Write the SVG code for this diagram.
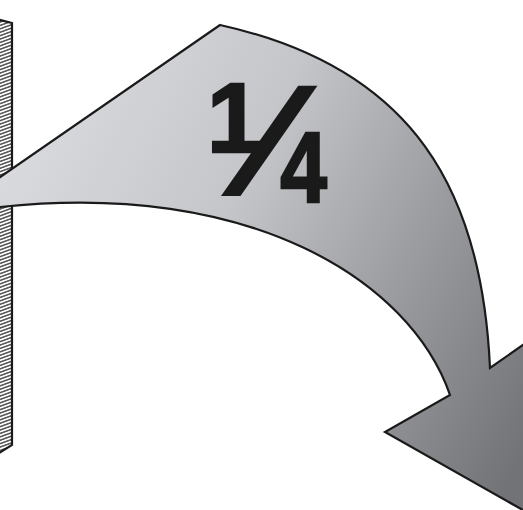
<svg xmlns="http://www.w3.org/2000/svg" width="523" height="510" viewBox="0 0 523 510">
  <style>
    .outline { stroke: #1a1a1a; stroke-width: 2.2; stroke-linejoin: miter; }
    .num { font-family: "Liberation Sans", Arial, sans-serif; font-weight: bold; fill: #1a1a1a; stroke: #1a1a1a; stroke-width: 2.4; }
  </style>
  <defs>
    <pattern id="hatch" patternUnits="userSpaceOnUse" width="24" height="3.4" patternTransform="skewY(-20)">
      <rect width="24" height="3.4" fill="#ffffff"/>
      <line x1="0" y1="1.7" x2="24" y2="1.7" stroke="#151515" stroke-width="1.2"/>
    </pattern>
    <linearGradient id="arrowFill" gradientUnits="userSpaceOnUse" x1="0" y1="100" x2="560" y2="380">
      <stop offset="0" stop-color="#dcdde0"/>
      <stop offset="0.4" stop-color="#c5c6c9"/>
      <stop offset="0.7" stop-color="#9b9c9f"/>
      <stop offset="1" stop-color="#727376"/>
    </linearGradient>
  </defs>

  <g id="wall">
    <polygon points="-4,19 12,23 12,445 -4,455" fill="url(#hatch)" class="outline"/>
  </g>

  <g id="connectors">
    <path id="quarter-turn-arrow" class="outline" fill="url(#arrowFill)"
      d="M -5,180.5 L 220,25 C 415,68 482,192 490,368 L 560,319 L 620,565 L 385,432 L 450,395 C 410,280 250,180 0,207 L -5,207 Z"/>
  </g>

  <g id="label">
    <text class="num" x="207" y="152" font-size="98">1</text>
    <text class="num" transform="translate(223,192) skewX(-27)" x="0" y="0" font-size="145">/</text>
    <text class="num" transform="translate(282,202) scale(0.84,1)" x="-2" y="0" font-size="100">4</text>
  </g>
</svg>
